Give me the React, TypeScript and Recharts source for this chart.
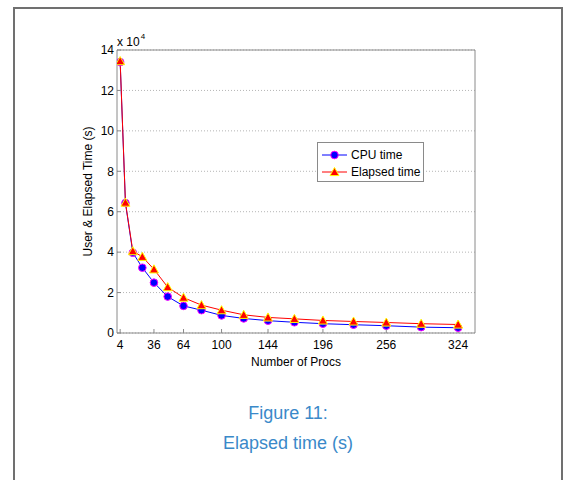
import React from "react";
import {
  CartesianGrid,
  Legend,
  Line,
  LineChart,
  XAxis,
  YAxis,
} from "recharts";

// number of processors (perfect squares 2^2 .. 18^2)
const procs = [4, 9, 16, 25, 36, 49, 64, 81, 100, 121, 144, 169, 196, 225, 256, 289, 324];
// seconds
const cpuTime = [134000, 64300, 39700, 32300, 24900, 18000, 13400, 11300, 8700, 7200, 6100, 5300, 4600, 4100, 3600, 2900, 2600];
const elapsedTime = [134500, 64500, 40500, 37700, 31500, 22700, 17500, 13800, 11300, 9000, 7700, 7000, 6200, 5700, 5200, 4600, 4200];

const xTicks = [4, 36, 64, 100, 144, 196, 256, 324];
const yTicks = [0, 20000, 40000, 60000, 80000, 100000, 120000, 140000];

const data = procs.map((p, i) => ({ procs: p, cpu: cpuTime[i], elapsed: elapsedTime[i] }));

const FONT = '"Liberation Sans", Arial, Helvetica, sans-serif';
const AXIS_GRAY = "#8a8a8a";

const CircleDot = (props: any) => {
  const { cx, cy, index } = props;
  if (cx == null || cy == null) return <g key={`c-${index}`} />;
  return <circle key={`c-${index}`} cx={cx} cy={cy} r={3.8} fill="#0000ff" stroke="#ff00ff" strokeWidth={1} />;
};

const TriangleDot = (props: any) => {
  const { cx, cy, index } = props;
  if (cx == null || cy == null) return <g key={`t-${index}`} />;
  const s = 4.5;
  const pts = `${cx},${cy - s} ${cx - s},${cy + s * 0.8} ${cx + s},${cy + s * 0.8}`;
  return <polygon key={`t-${index}`} points={pts} fill="#ff0000" stroke="#ffff00" strokeWidth={1} />;
};

// legend box in the upper right of the plot
const LegendBox = () => (
  <div
    style={{
      width: 107,
      height: 40,
      border: "1px solid #8a8a8a",
      background: "#fff",
      fontFamily: FONT,
      fontSize: 12,
      color: "#000",
      boxSizing: "border-box",
      paddingTop: 3,
    }}
  >
    {[
      { name: "CPU time", color: "#0000ff", kind: "circle" },
      { name: "Elapsed time", color: "#ff0000", kind: "tri" },
    ].map((it) => (
      <div key={it.name} style={{ display: "flex", alignItems: "center", height: 17 }}>
        <svg width={31} height={16} style={{ marginLeft: 2 }}>
          <line x1={2} y1={8} x2={27} y2={8} stroke={it.color} strokeWidth={1} />
          {it.kind === "circle" ? (
            <circle cx={14.5} cy={8} r={3.8} fill="#0000ff" stroke="#ff00ff" strokeWidth={1} />
          ) : (
            <polygon points="14.5,3.5 10,11.6 19,11.6" fill="#ff0000" stroke="#ffff00" strokeWidth={1} />
          )}
        </svg>
        <span>{it.name}</span>
      </div>
    ))}
  </div>
);

export default function App() {
  return (
    <div style={{ position: "absolute", left: 0, top: 0, width: 568, height: 480, overflow: "hidden", background: "#fff", fontFamily: FONT }}>
      {/* page frame */}
      <div
        style={{
          position: "absolute",
          left: 13,
          top: 7,
          width: 550,
          height: 520,
          border: "2px solid #707070",
          boxSizing: "border-box",
        }}
      />

      <LineChart
        width={568}
        height={480}
        data={data}
        margin={{ top: 49, right: 92, bottom: 117, left: 77 }}
        style={{ position: "absolute", left: 0, top: 0 }}
      >
        <CartesianGrid
          xAxisId="bottom"
          yAxisId="left"
          vertical={false}
          stroke="#b5b5b5"
          strokeDasharray="1 2"
        />
        <XAxis
          xAxisId="bottom"
          dataKey="procs"
          type="number"
          domain={[1, 340]}
          ticks={xTicks}
          allowDataOverflow
          height={30}
          stroke={AXIS_GRAY}
          tickSize={-4}
          tickMargin={11}
          tick={{ fill: "#000", fontSize: 12, fontFamily: FONT }}
          label={{
            value: "Number of Procs",
            position: "insideBottom",
            offset: -3,
            style: { fill: "#000", fontSize: 12, fontFamily: FONT },
          }}
        />
        <XAxis
          xAxisId="top"
          orientation="top"
          dataKey="procs"
          type="number"
          domain={[1, 340]}
          ticks={xTicks}
          allowDataOverflow
          height={1}
          stroke={AXIS_GRAY}
          tickSize={-4}
          tick={false}
        />
        <YAxis
          yAxisId="left"
          type="number"
          domain={[0, 140000]}
          ticks={yTicks}
          width={40}
          stroke={AXIS_GRAY}
          tickSize={-4}
          tickMargin={7}
          tickFormatter={(v: number) => String(v / 10000)}
          tick={{ fill: "#000", fontSize: 12, fontFamily: FONT }}
          label={{
            value: "User & Elapsed Time (s)",
            angle: -90,
            position: "insideLeft",
            offset: 11,
            style: { fill: "#000", fontSize: 12, fontFamily: FONT, textAnchor: "middle" },
          }}
        />
        <YAxis
          yAxisId="right"
          orientation="right"
          type="number"
          domain={[0, 140000]}
          ticks={yTicks}
          width={1}
          stroke={AXIS_GRAY}
          tickSize={-4}
          tick={false}
        />
        <Legend
          layout="vertical"
          align="center"
          verticalAlign="middle"
          wrapperStyle={{ left: 317, top: 142, width: 107, height: 40 }}
          content={() => <LegendBox />}
        />
        <Line
          xAxisId="bottom"
          yAxisId="left"
          dataKey="cpu"
          name="CPU time"
          stroke="#0000ff"
          strokeWidth={1}
          dot={CircleDot}
          activeDot={false}
          isAnimationActive={false}
        />
        <Line
          xAxisId="bottom"
          yAxisId="left"
          dataKey="elapsed"
          name="Elapsed time"
          stroke="#ff0000"
          strokeWidth={1}
          dot={TriangleDot}
          activeDot={false}
          isAnimationActive={false}
        />
      </LineChart>

      {/* scale factor above the y axis */}
      <div style={{ position: "absolute", left: 117, top: 35, fontSize: 12, color: "#000", whiteSpace: "nowrap", lineHeight: "14px" }}>
        x 10<span style={{ fontSize: 8, position: "relative", top: -7, marginLeft: 1 }}>4</span>
      </div>

      {/* caption */}
      <div
        style={{
          position: "absolute",
          left: 13,
          width: 550,
          top: 398,
          textAlign: "center",
          color: "#3a89c9",
          fontSize: 18,
          lineHeight: "30px",
        }}
      >
        <div>Figure 11:</div>
        <div>Elapsed time (s)</div>
      </div>
    </div>
  );
}
